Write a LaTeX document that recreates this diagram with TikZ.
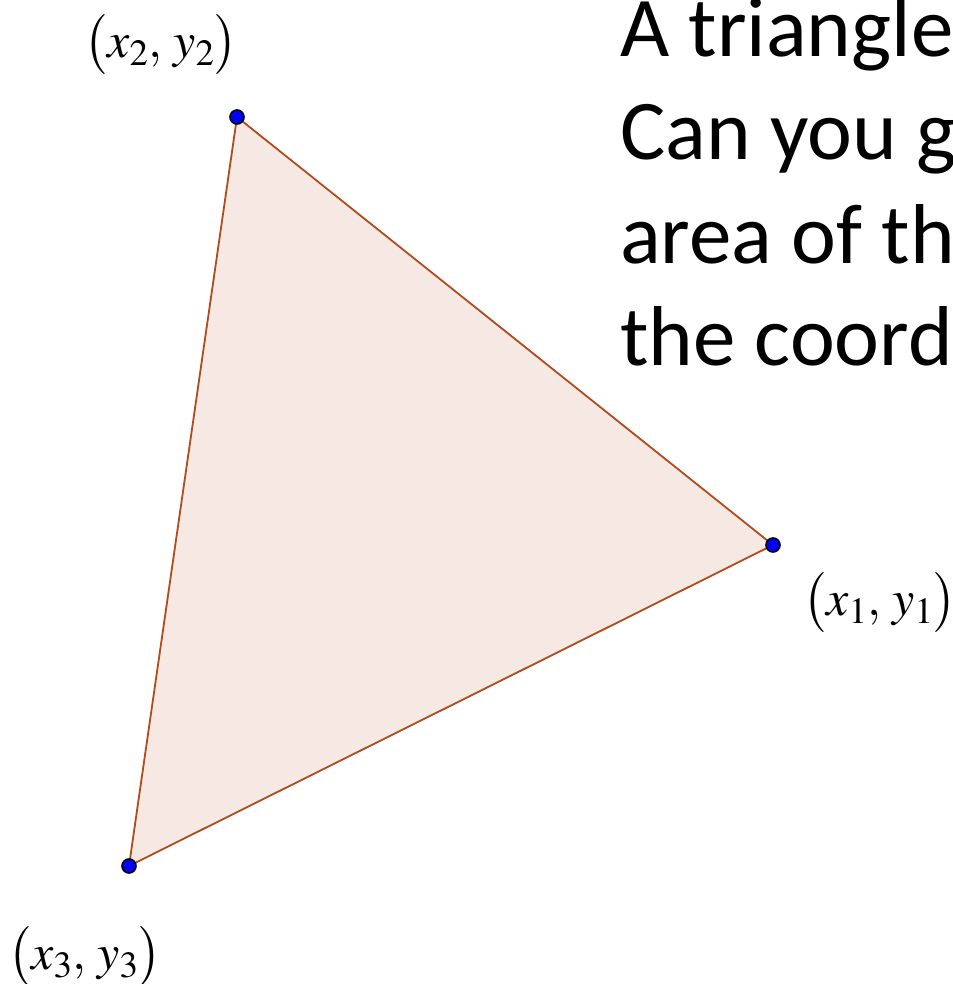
\documentclass[tikz,border=0pt]{standalone}
\usepackage{mathptmx}
\usepackage{fontspec}
\setmainfont{Carlito}
\usepackage{xcolor}
\usetikzlibrary{positioning}
\definecolor{triedge}{HTML}{B04B1E}
\definecolor{trifill}{HTML}{F6E9E4}
\definecolor{ptblue}{HTML}{0000FF}

\begin{document}
\begin{tikzpicture}[x=1pt, y=-1pt,
  vtx/.style={circle, draw=black, line width=1.6pt, fill=ptblue, minimum size=14pt, inner sep=0pt},
  lbl/.style={font=\fontsize{50}{54}\selectfont, inner sep=0pt},
  txt/.style={anchor=base west, inner sep=0pt, font=\fontsize{85}{100}\selectfont},
  tri/.style={draw=triedge, fill=trifill, line width=1.8pt, line join=round}]
\clip (0,0) rectangle (952,984);
\coordinate (p1) at (773,545);
\coordinate (p2) at (237,117);
\coordinate (p3) at (129,866);
\filldraw[tri] (p1) -- (p2) -- (p3) -- cycle;
\node[vtx] (v1) at (p1) {};
\node[vtx] (v2) at (p2) {};
\node[vtx] (v3) at (p3) {};
\node[lbl] (l2) at (161,45)  {$\bigl(x_2,\, y_2\bigr)$};
\node[lbl] (l1) at (880,603) {$\bigl(x_1,\, y_1\bigr)$};
\node[lbl] (l3) at (85,957)  {$\bigl(x_3,\, y_3\bigr)$};
\node[txt] (q1) at (620,57)  {A triangle};
\node[txt] (q2) at (620,160) {Can you g};
\node[txt] (q3) at (620,263) {area of th};
\node[txt] (q4) at (620,365) {the coord};
\end{tikzpicture}
\end{document}
